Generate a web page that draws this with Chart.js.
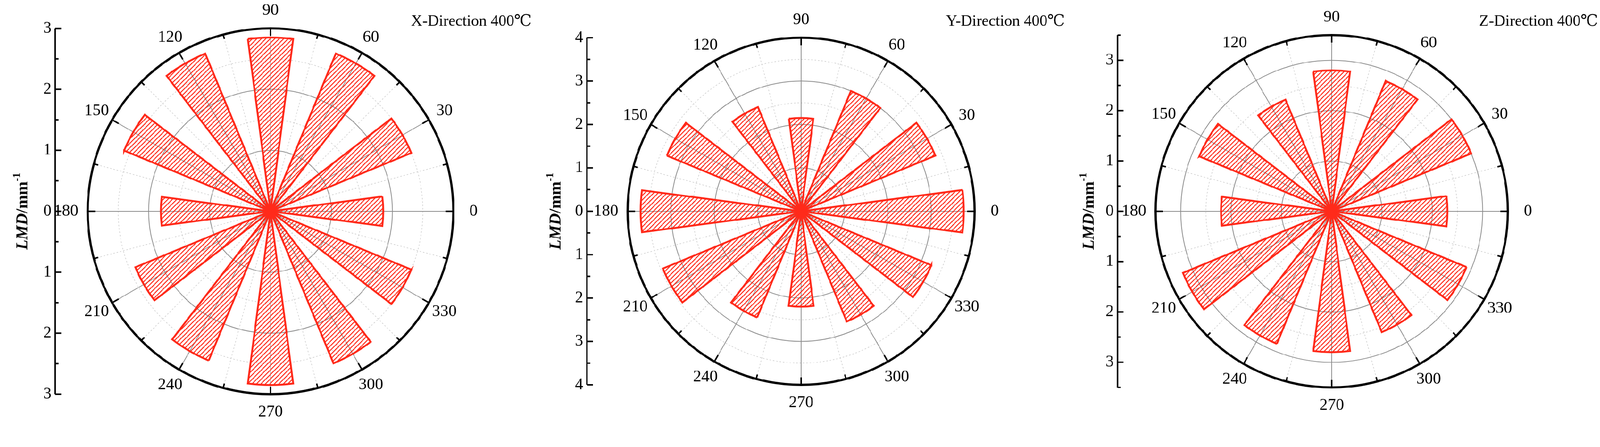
<!DOCTYPE html>
<html>
<head>
<meta charset="utf-8">
<script src="https://cdn.jsdelivr.net/npm/chart.js@4"></script>
<style>
  html, body { margin: 0; background: #fff; overflow: hidden; }
  #wrap { position: absolute; left: 0; top: 0; width: 4288px; height: 1144px; transform-origin: 0 0; }
  .panel { position: absolute; top: 0; width: 1429px; height: 1144px; }
  canvas { width: 1429px !important; height: 1144px !important; }
</style>
</head>
<body>
<div id="wrap">
<div class="panel" style="left:0"><canvas id="cx"></canvas></div>
<div class="panel" style="left:1429px"><canvas id="cy"></canvas></div>
<div class="panel" style="left:2858px"><canvas id="cz"></canvas></div>
</div>
<script>
const angles = [0, 30, 60, 90, 120, 150, 180, 210, 240, 270, 300, 330];
const xValues = [1.85, 2.5, 2.8, 2.85, 2.8, 2.6, 1.8, 2.4, 2.65, 2.85, 2.7, 2.5];
const yValues = [3.75, 3.35, 3.0, 2.15, 2.6, 3.35, 3.7, 3.45, 2.65, 2.2, 2.75, 3.25];
const zValues = [2.3, 3.0, 2.8, 2.8, 2.4, 2.85, 2.2, 3.2, 2.85, 2.8, 2.6, 2.9];
const axisTicksX = [0, 1, 2, 3];
const axisTicksY = [0, 1, 2, 3, 4];
const axisTicksZ = [0, 1, 2, 3];

const SERIF = '"Liberation Serif", "DejaVu Serif", serif';
const RED = '#ff2a1a';

// fit the 4288x1144 layout into whatever the viewport really is
const sc = Math.min(window.innerWidth / 4288, window.innerHeight / 1144);
if (sc < 0.999) document.getElementById('wrap').style.transform = 'scale(' + sc + ')';

// clockwise from top: 90, 60, 30, 0, 330 ...
const clockOrder = [90, 60, 30, 0, 330, 300, 270, 240, 210, 180, 150, 120];
function interleave(values) {
  const out = [];
  clockOrder.forEach(a => { out.push(values[angles.indexOf(a)]); out.push(0); });
  return out;
}

function hatch() {
  const c = document.createElement('canvas');
  c.width = 12; c.height = 12;
  const g = c.getContext('2d');
  g.strokeStyle = RED; g.lineWidth = 2.6;
  g.beginPath();
  g.moveTo(-2, 14); g.lineTo(14, -2);
  g.moveTo(-2, 2); g.lineTo(2, -2);
  g.moveTo(10, 14); g.lineTo(14, 10);
  g.stroke();
  return g.createPattern(c, 'repeat');
}

const polarDeco = {
  id: 'polarDeco',
  beforeDatasetsDraw(chart, args, o) {
    const s = chart.scales.r, ctx = chart.ctx;
    const cx = s.xCenter, cy = s.yCenter, R = s.drawingArea;
    ctx.save();
    for (let v = 0.5; v < o.max - 0.01; v += 0.5) {
      const r = s.getDistanceFromCenterForValue(v);
      const major = Math.abs(v - Math.round(v)) < 0.01;
      ctx.setLineDash(major ? [] : [4, 5]);
      ctx.strokeStyle = major ? '#8a8a8a' : '#c8c8c8';
      ctx.lineWidth = major ? 2 : 1.5;
      ctx.beginPath(); ctx.arc(cx, cy, r, 0, Math.PI * 2); ctx.stroke();
    }
    for (let a = 0; a < 360; a += 15) {
      const major = a % 30 === 0;
      const t = -a * Math.PI / 180;
      ctx.setLineDash(major ? [] : [4, 5]);
      ctx.strokeStyle = major ? '#8a8a8a' : '#c8c8c8';
      ctx.lineWidth = major ? 2 : 1.5;
      ctx.beginPath(); ctx.moveTo(cx, cy);
      ctx.lineTo(cx + R * Math.cos(t), cy + R * Math.sin(t)); ctx.stroke();
    }
    ctx.restore();
  },
  afterDatasetsDraw(chart, args, o) {
    const s = chart.scales.r, ctx = chart.ctx;
    const cx = s.xCenter, cy = s.yCenter, R = s.drawingArea;
    ctx.save();
    ctx.strokeStyle = '#000'; ctx.lineWidth = 6;
    ctx.beginPath(); ctx.arc(cx, cy, R, 0, Math.PI * 2); ctx.stroke();
    ctx.lineWidth = 4;
    for (let a = 0; a < 360; a += 15) {
      const t = -a * Math.PI / 180, L = a % 30 === 0 ? 20 : 12;
      ctx.beginPath();
      ctx.moveTo(cx + R * Math.cos(t), cy + R * Math.sin(t));
      ctx.lineTo(cx + (R - L) * Math.cos(t), cy + (R - L) * Math.sin(t));
      ctx.stroke();
    }
    ctx.fillStyle = '#000';
    ctx.font = '44px ' + SERIF;
    ctx.textAlign = 'center'; ctx.textBaseline = 'middle';
    angles.forEach(a => {
      const t = -a * Math.PI / 180, d = R + 48;
      let x = cx + d * Math.cos(t), y = cy + d * Math.sin(t);
      if (a === 0) x += 6;
      if (a === 180) x -= 10;
      ctx.fillText(String(a), x, y);
    });
    ctx.textAlign = 'right';
    ctx.font = '42px ' + SERIF;
    ctx.fillText(o.title, chart.width - 4, 58);
    const ax = o.axisX;
    const top = cy - s.getDistanceFromCenterForValue(o.max);
    const bot = cy + s.getDistanceFromCenterForValue(o.max);
    ctx.lineWidth = 4;
    ctx.beginPath(); ctx.moveTo(ax, top); ctx.lineTo(ax, bot); ctx.stroke();
    ctx.textAlign = 'right';
    ctx.font = '44px ' + SERIF;
    for (let v = 0; v <= o.max + 0.01; v += 0.5) {
      const d = s.getDistanceFromCenterForValue(v);
      const major = Math.abs(v - Math.round(v)) < 0.01;
      const L = major ? 16 : 9;
      [cy - d, cy + d].forEach(y => {
        ctx.beginPath(); ctx.moveTo(ax, y); ctx.lineTo(ax + L, y); ctx.stroke();
      });
    }
    o.ticks.forEach(v => {
      const d = s.getDistanceFromCenterForValue(v);
      ctx.fillText(String(v), ax - 10, cy - d);
      if (v > 0) ctx.fillText(String(v), ax - 10, cy + d);
    });
    ctx.translate(62, cy);
    ctx.rotate(-Math.PI / 2);
    ctx.textAlign = 'left'; ctx.textBaseline = 'middle';
    const parts = [['italic bold 44px ', 'LMD'], ['bold 44px ', '/mm']];
    let w = 0;
    parts.forEach(p => { ctx.font = p[0] + SERIF; w += ctx.measureText(p[1]).width; });
    ctx.font = 'bold 28px ' + SERIF; w += ctx.measureText('-1').width;
    let x = -w / 2;
    parts.forEach(p => { ctx.font = p[0] + SERIF; ctx.fillText(p[1], x, 0); x += ctx.measureText(p[1]).width; });
    ctx.font = 'bold 28px ' + SERIF; ctx.fillText('-1', x, -16);
    ctx.restore();
  }
};

function makeChart(id, values, max, pad, axisX, ticks, title) {
  const data = interleave(values);
  new Chart(document.getElementById(id), {
    type: 'polarArea',
    data: {
      labels: data.map((_, i) => String(i)),
      datasets: [{
        data: data,
        backgroundColor: hatch(),
        borderColor: RED,
        borderWidth: ctx => ctx.dataIndex % 2 ? 0 : 5,
        borderJoinStyle: 'miter'
      }]
    },
    options: {
      responsive: false,
      animation: false,
      devicePixelRatio: 1,
      layout: { padding: pad },
      plugins: {
        legend: { display: false },
        tooltip: { enabled: false },
        polarDeco: { max: max, axisX: axisX, ticks: ticks, title: title }
      },
      scales: {
        r: {
          min: 0, max: max,
          startAngle: -7.5,
          ticks: { display: false, stepSize: 0.5 },
          grid: { display: false },
          angleLines: { display: false },
          pointLabels: { display: false }
        }
      }
    },
    plugins: [polarDeco]
  });
}

['cx', 'cy', 'cz'].forEach(id => {
  const c = document.getElementById(id);
  c.width = 1429; c.height = 1144;
});

makeChart('cx', xValues, 3, { left: 235, right: 214, top: 76, bottom: 88 }, 148, axisTicksX, 'X-Direction 400\u2103');
makeChart('cy', yValues, 4, { left: 253, right: 246, top: 101, bottom: 113 }, 144, axisTicksY, 'Y-Direction 400\u2103');
makeChart('cz', zValues, 3.5, { left: 239, right: 245, top: 93, bottom: 105 }, 137, axisTicksZ, 'Z-Direction 400\u2103');
</script>
</body>
</html>
